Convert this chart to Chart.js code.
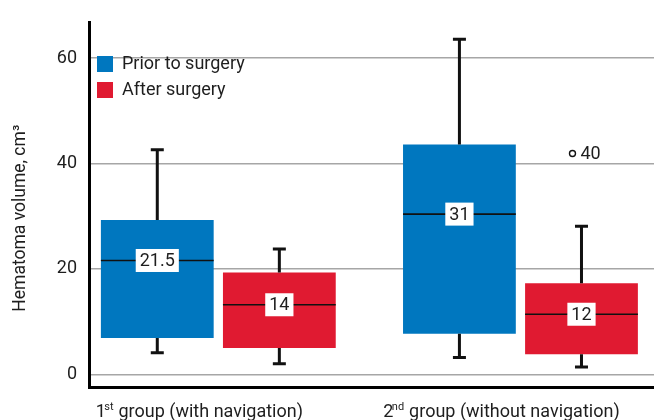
<!DOCTYPE html>
<html>
<head>
<meta charset="utf-8">
<script src="https://cdn.jsdelivr.net/npm/chart.js@4.4.1/dist/chart.umd.min.js"></script>
<style>
  html, body { margin: 0; padding: 0; background: #ffffff; }
  #wrap { width: 654px; height: 420px; }
</style>
</head>
<body>
<div id="wrap"><canvas id="c" width="654" height="420"></canvas></div>
<script>
// ---- data ----
const categories = ['1st group (with navigation)', '2nd group (without navigation)'];
const categoryNumbers = ['1', '2'];
const categorySuffixes = ['st', 'nd'];
const categoryTexts = [' group (with navigation)', ' group (without navigation)'];

const seriesNames = ['Prior to surgery', 'After surgery'];

const priorMin = [4.1, 3.2];
const priorQ1 = [6.9, 7.7];
const priorMedian = [21.6, 30.4];
const priorQ3 = [29.3, 43.6];
const priorMax = [42.6, 63.6];
const priorMedianLabels = ['21.5', '31'];
const priorOutliers = [[], []];
const priorOutlierLabels = [[], []];

const afterMin = [2.0, 1.4];
const afterQ1 = [5.0, 3.8];
const afterMedian = [13.2, 11.4];
const afterQ3 = [19.3, 17.3];
const afterMax = [23.8, 28.1];
const afterMedianLabels = ['14', '12'];
const afterOutliers = [[], [41.9]];
const afterOutlierLabels = [[], ['40']];

const yTicks = [0, 20, 40, 60];
const yTitle = 'Hematoma volume, cm\u00B3';

// ---- styling ----
const FONT = 'Roboto, "Liberation Sans", sans-serif';
const FS = 18;
const TEXT = '#1e1e1e';
const BLUE = '#0077bf';
const RED = '#e01a31';

const stats = [
  { min: priorMin, q1: priorQ1, med: priorMedian, q3: priorQ3, max: priorMax, medLabels: priorMedianLabels, out: priorOutliers, outLabels: priorOutlierLabels },
  { min: afterMin, q1: afterQ1, med: afterMedian, q3: afterQ3, max: afterMax, medLabels: afterMedianLabels, out: afterOutliers, outLabels: afterOutlierLabels }
];

const boxPlotPlugin = {
  id: 'boxPlotParts',
  afterDatasetsDraw(chart) {
    const ctx = chart.ctx;
    const ys = chart.scales.y;
    ctx.save();
    chart.data.datasets.forEach((ds, d) => {
      const meta = chart.getDatasetMeta(d);
      const s = stats[d];
      meta.data.forEach((bar, i) => {
        const x = bar.x;
        const half = bar.width / 2;
        const yMin = ys.getPixelForValue(s.min[i]);
        const yQ1 = ys.getPixelForValue(s.q1[i]);
        const yMed = ys.getPixelForValue(s.med[i]);
        const yQ3 = ys.getPixelForValue(s.q3[i]);
        const yMax = ys.getPixelForValue(s.max[i]);
        // whiskers
        ctx.strokeStyle = '#111';
        ctx.lineWidth = 3;
        ctx.lineCap = 'butt';
        ctx.beginPath();
        ctx.moveTo(x, yQ3); ctx.lineTo(x, yMax);
        ctx.moveTo(x, yQ1); ctx.lineTo(x, yMin);
        ctx.moveTo(x - 6.5, yMax); ctx.lineTo(x + 6.5, yMax);
        ctx.moveTo(x - 6.5, yMin); ctx.lineTo(x + 6.5, yMin);
        ctx.stroke();
        // median
        ctx.lineWidth = 1.6;
        ctx.beginPath();
        ctx.moveTo(x - half, yMed); ctx.lineTo(x + half, yMed);
        ctx.stroke();
        // median label
        ctx.font = FS + 'px ' + FONT;
        const txt = s.medLabels[i];
        const tw = ctx.measureText(txt).width;
        const bw = tw + 8, bh = 23;
        ctx.fillStyle = '#ffffff';
        ctx.fillRect(x - bw / 2, yMed - bh / 2, bw, bh);
        ctx.fillStyle = TEXT;
        ctx.textAlign = 'center';
        ctx.textBaseline = 'middle';
        ctx.fillText(txt, x, yMed + 1);
        // outliers
        s.out[i].forEach((v, k) => {
          const oy = ys.getPixelForValue(v);
          const ox = x - 9;
          ctx.beginPath();
          ctx.arc(ox, oy, 3, 0, Math.PI * 2);
          ctx.fillStyle = '#ffffff';
          ctx.fill();
          ctx.lineWidth = 1.4;
          ctx.strokeStyle = '#111';
          ctx.stroke();
          ctx.fillStyle = TEXT;
          ctx.textAlign = 'left';
          ctx.textBaseline = 'middle';
          ctx.fillText(s.outLabels[i][k], ox + 8, oy + 1);
        });
      });
    });
    ctx.restore();
  }
};

const xLabelPlugin = {
  id: 'xCategoryLabels',
  afterDraw(chart) {
    const ctx = chart.ctx;
    const xs = chart.scales.x;
    const baseY = chart.chartArea.bottom + 29.5;
    ctx.save();
    ctx.fillStyle = TEXT;
    ctx.textBaseline = 'alphabetic';
    ctx.textAlign = 'left';
    categories.forEach((c, i) => {
      const big = FS + 'px ' + FONT, small = '11px ' + FONT;
      ctx.font = big;
      const w1 = ctx.measureText(categoryNumbers[i]).width - 1.5;
      const w3 = ctx.measureText(categoryTexts[i]).width;
      ctx.font = small;
      const w2 = ctx.measureText(categorySuffixes[i]).width + 0.5;
      const total = w1 + w2 + w3;
      let x0 = xs.getPixelForValue(i) - 19 - total / 2;
      ctx.font = big;
      ctx.fillText(categoryNumbers[i], x0, baseY);
      ctx.font = small;
      ctx.fillText(categorySuffixes[i], x0 + w1, baseY - 7);
      ctx.font = big;
      ctx.fillText(categoryTexts[i], x0 + w1 + w2, baseY);
    });
    ctx.restore();
  }
};

const colors = [BLUE, RED];
const chart = new Chart(document.getElementById('c'), {
  type: 'bar',
  data: {
    datasets: seriesNames.map((name, d) => ({
      label: name,
      data: categories.map((c, i) => ({ x: i, y: [stats[d].q1[i], stats[d].q3[i]] })),
      backgroundColor: colors[d],
      borderWidth: 0,
      categoryPercentage: 0.808,
      barPercentage: 0.924
    }))
  },
  options: {
    responsive: false,
    animation: false,
    layout: { padding: { top: 14.5, left: 0, right: 0, bottom: 32.5 } },
    plugins: {
      tooltip: { enabled: false },
      legend: {
        position: 'chartArea',
        align: 'start',
        title: { display: true, text: '', padding: { top: 32.6, bottom: 0 }, font: { size: 12 } },
        labels: {
          boxWidth: 16,
          boxHeight: 16,
          padding: 8,
          color: TEXT,
          font: { family: FONT, size: FS }
        }
      }
    },
    scales: {
      x: {
        type: 'linear',
        min: -0.428,
        max: 1.442,
        offset: false,
        afterBuildTicks: (scale) => { scale.ticks = categories.map((c, i) => ({ value: i })); },
        grid: { display: false, drawTicks: false },
        border: { display: true, color: '#000', width: 3 },
        ticks: { display: false }
      },
      y: {
        min: -2.5,
        max: 66.7,
        afterBuildTicks: (scale) => { scale.ticks = yTicks.map(v => ({ value: v })); },
        afterFit: (scale) => { scale.width = 89; },
        grid: { color: '#a6a6a6', lineWidth: 1.5, drawTicks: false },
        border: { display: true, color: '#000', width: 3 },
        ticks: { padding: 12, color: TEXT, font: { family: FONT, size: FS } },
        title: {
          display: true,
          text: yTitle + '      ',
          color: TEXT,
          font: { family: FONT, size: 17.5 },
          padding: { top: 10, bottom: 0 }
        }
      }
    }
  },
  plugins: [boxPlotPlugin, xLabelPlugin]
});
</script>
</body>
</html>
